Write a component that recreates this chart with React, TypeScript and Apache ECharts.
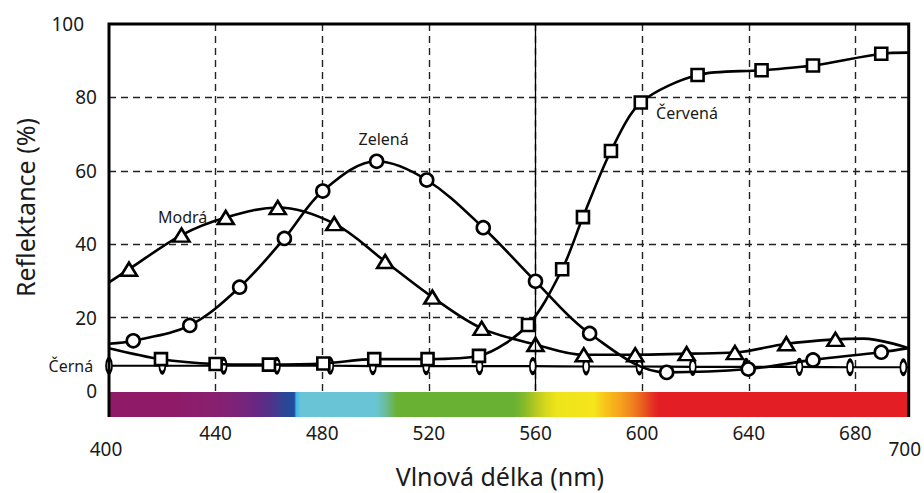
import React, { useEffect, useRef } from "react";
import * as echarts from "echarts";

const FONT = "'Noto Sans', 'DejaVu Sans', sans-serif";

// Wavelength ticks
const xTicks = [400, 440, 480, 520, 560, 600, 640, 680, 700];
const yTicks = [0, 20, 40, 60, 80, 100];

// Modrá (blue) – triangles
const modraX = [400, 407.5, 427.2, 443.8, 463.3, 484.5, 503.6, 521.3, 539.8, 560, 578.1, 597.4, 616.7, 634.8, 654.1, 672.5, 683, 700];
const modraY = [29.6, 33.2, 42.5, 47.3, 50.0, 45.6, 35.3, 25.6, 17.1, 12.7, 9.9, 9.9, 10.2, 10.5, 12.9, 14.1, 14.3, 11.7];
const modraM = [0, 1, 1, 1, 1, 1, 1, 1, 1, 1, 1, 1, 1, 1, 1, 1, 0, 0];

// Zelená (green) – circles
const zelenaX = [400, 409.1, 430.3, 449, 465.8, 480.2, 500.4, 519.2, 540.4, 560, 580.3, 609.2, 639.8, 664.1, 689.7, 700];
const zelenaY = [12.9, 13.7, 17.9, 28.3, 41.6, 54.5, 62.6, 57.5, 44.5, 29.9, 15.7, 5.1, 6.0, 8.5, 10.6, 11.7];
const zelenaM = [0, 1, 1, 1, 1, 1, 1, 1, 1, 1, 1, 1, 1, 1, 1, 0];

// Červená (red) – squares
const cervenaX = [400, 419.5, 440, 460, 480.4, 499.5, 519.5, 538.8, 557.2, 570, 577.8, 588.3, 599.5, 620.8, 644.8, 664.1, 689.7, 700];
const cervenaY = [11.7, 8.7, 7.4, 7.2, 7.5, 8.7, 8.7, 9.6, 18.0, 33.2, 47.4, 65.4, 78.6, 86.1, 87.4, 88.7, 91.9, 92.2];
const cervenaM = [0, 1, 1, 1, 1, 1, 1, 1, 1, 1, 1, 1, 1, 1, 1, 1, 1, 0];

// Černá (black) – thin ellipses
const cernaX = [400, 420, 443, 463, 483, 499, 519, 539, 559, 579, 599, 619, 639, 659, 678, 698, 700];
const cernaY = [6.9, 6.9, 6.9, 6.9, 6.9, 6.8, 6.8, 6.8, 6.8, 6.7, 6.7, 6.6, 6.6, 6.6, 6.5, 6.5, 6.5];
const cernaM = [1, 1, 1, 1, 1, 1, 1, 1, 1, 1, 1, 1, 1, 1, 1, 1, 0];

// Visible spectrum under the axis: [nm, colour]
const spectrumNm = [400, 425, 430, 440, 448, 455, 460, 465, 468, 469.5, 470.2, 472, 500, 504, 508, 552, 556, 560, 564, 568, 582, 586, 591, 596, 600, 603, 606, 700];
const spectrumColor = ["#8f1a68", "#8f1a68", "#8c1d6c", "#88206f", "#7b2379", "#6a2882", "#553087", "#334394", "#234a9b", "#234a9b", "#3fb8e8", "#69c5d6", "#69c5d6", "#6abb95", "#69b133", "#69b133", "#86ba2a", "#b5c920", "#d6d91b", "#eee41a", "#f5e51c", "#f8c51a", "#f5a81d", "#f0841f", "#ea6020", "#e43c22", "#e31e24", "#e31e24"];

const names = ["Modrá", "Zelená", "Červená", "Černá"];

function buildData(xs: number[], ys: number[], ms: number[], sym: string, size: any, labelIdx: number, label: any) {
  return xs.map((x, i) => {
    const item: any = { value: [x, ys[i]] };
    if (!ms[i]) item.symbol = "none";
    else {
      item.symbol = sym;
      item.symbolSize = size;
    }
    if (i === labelIdx) item.label = label;
    return item;
  });
}

export default function App() {
  const ref = useRef<HTMLDivElement>(null);
  useEffect(() => {
    if (!ref.current) return;
    const chart = echarts.init(ref.current, null, { renderer: "svg" });
    const labelBase = { show: true, color: "#1a1a1a", fontSize: 16, fontFamily: FONT };
    const lineStyle = { color: "#000", width: 2.6 };
    const itemStyle = { color: "#fff", borderColor: "#000", borderWidth: 2.6 };
    const gridLine = { show: true, showMinLine: false, showMaxLine: false, lineStyle: { color: "#222", width: 1.4, type: [7, 5] } };
    const tickText = { fontSize: 19, fontFamily: FONT, color: "#1a1a1a" };
    const option: any = {
      animation: false,
      grid: { left: 109, right: 13, top: 24, bottom: 98 },
      xAxis: {
        type: "value",
        min: 400,
        max: 700,
        interval: 40,
        name: "Vlnová délka (nm)",
        nameLocation: "middle",
        nameGap: 68,
        nameTextStyle: { fontSize: 25, fontFamily: FONT, color: "#1a1a1a", padding: [0, 18, 0, 0] },
        axisLine: { show: false },
        axisTick: { show: false },
        axisLabel: {
          margin: 32,
          ...tickText,
          formatter: (v: number) =>
            v === xTicks[0] ? `{lo|${v}}` : v === xTicks[xTicks.length - 1] ? `{hi|${v}}` : `${v}`,
          rich: {
            lo: { padding: [16, 6, 0, 0], ...tickText },
            hi: { padding: [16, 8, 0, 0], ...tickText },
          },
        },
        splitLine: gridLine,
      },
      yAxis: {
        type: "value",
        min: yTicks[0],
        max: yTicks[yTicks.length - 1],
        interval: 20,
        name: "Reflektance (%)",
        nameLocation: "middle",
        nameGap: 72,
        nameTextStyle: { fontSize: 25, fontFamily: FONT, color: "#1a1a1a" },
        axisLine: { show: false },
        axisTick: { show: false },
        axisLabel: {
          margin: 12,
          ...tickText,
          formatter: (v: number) => (v === 100 ? `{hi|${v}}` : `${v}`),
          rich: { hi: { padding: [0, 13, 0, 0], ...tickText } },
        },
        splitLine: gridLine,
      },
      series: [
        {
          name: names[3],
          type: "line",
          smooth: 0.3,
          lineStyle: { color: "#000", width: 2.2 },
          itemStyle,
          data: buildData(cernaX, cernaY, cernaM, "circle", [6, 14], 0, { ...labelBase, formatter: names[3], position: "left", distance: 12 }),
          markLine: {
            silent: true,
            symbol: "none",
            label: { show: false },
            lineStyle: { color: "#000", width: 1.3, type: "solid" },
            data: [{ xAxis: 560 }],
          },
          z: 2,
        },
        {
          name: names[2],
          type: "line",
          smooth: 0.3,
          lineStyle,
          itemStyle,
          data: buildData(cervenaX, cervenaY, cervenaM, "rect", 12, 12, { ...labelBase, formatter: names[2], position: "right", distance: 6, offset: [2, 10] }),
          z: 3,
        },
        {
          name: names[0],
          type: "line",
          smooth: 0.35,
          lineStyle,
          itemStyle,
          data: buildData(modraX, modraY, modraM, "triangle", [16, 13], 3, { ...labelBase, formatter: names[0], position: "left", distance: 9 }),
          z: 4,
        },
        {
          name: names[1],
          type: "line",
          smooth: 0.35,
          lineStyle,
          itemStyle,
          data: buildData(zelenaX, zelenaY, zelenaM, "circle", 13, 6, { ...labelBase, formatter: names[1], position: "top", distance: 6, offset: [7, 0] }),
          z: 5,
        },
      ],
    };
    chart.setOption(option);

    const p0 = chart.convertToPixel({ gridIndex: 0 }, [400, 0]) as number[];
    const p1 = chart.convertToPixel({ gridIndex: 0 }, [700, 100]) as number[];
    const barTop = p0[1] + 1;
    const barH = 25;
    const x0 = spectrumNm[0];
    const span = spectrumNm[spectrumNm.length - 1] - x0;
    chart.setOption({
      graphic: [
        {
          type: "rect",
          z: 5,
          shape: { x: p0[0], y: barTop, width: p1[0] - p0[0], height: barH },
          style: {
            fill: new echarts.graphic.LinearGradient(
              0, 0, 1, 0,
              spectrumNm.map((nm, i) => ({ offset: (nm - x0) / span, color: spectrumColor[i] }))
            ),
          },
        },
        {
          type: "polyline",
          z: 50,
          shape: { points: [[p0[0], barTop + barH], [p0[0], p1[1]], [p1[0], p1[1]], [p1[0], barTop + barH]] },
          style: { stroke: "#000", lineWidth: 3, fill: null },
        },
      ],
    });
    return () => chart.dispose();
  }, []);
  return <div ref={ref} style={{ position: "absolute", left: 0, top: 0, width: 924, height: 493 }} />;
}
